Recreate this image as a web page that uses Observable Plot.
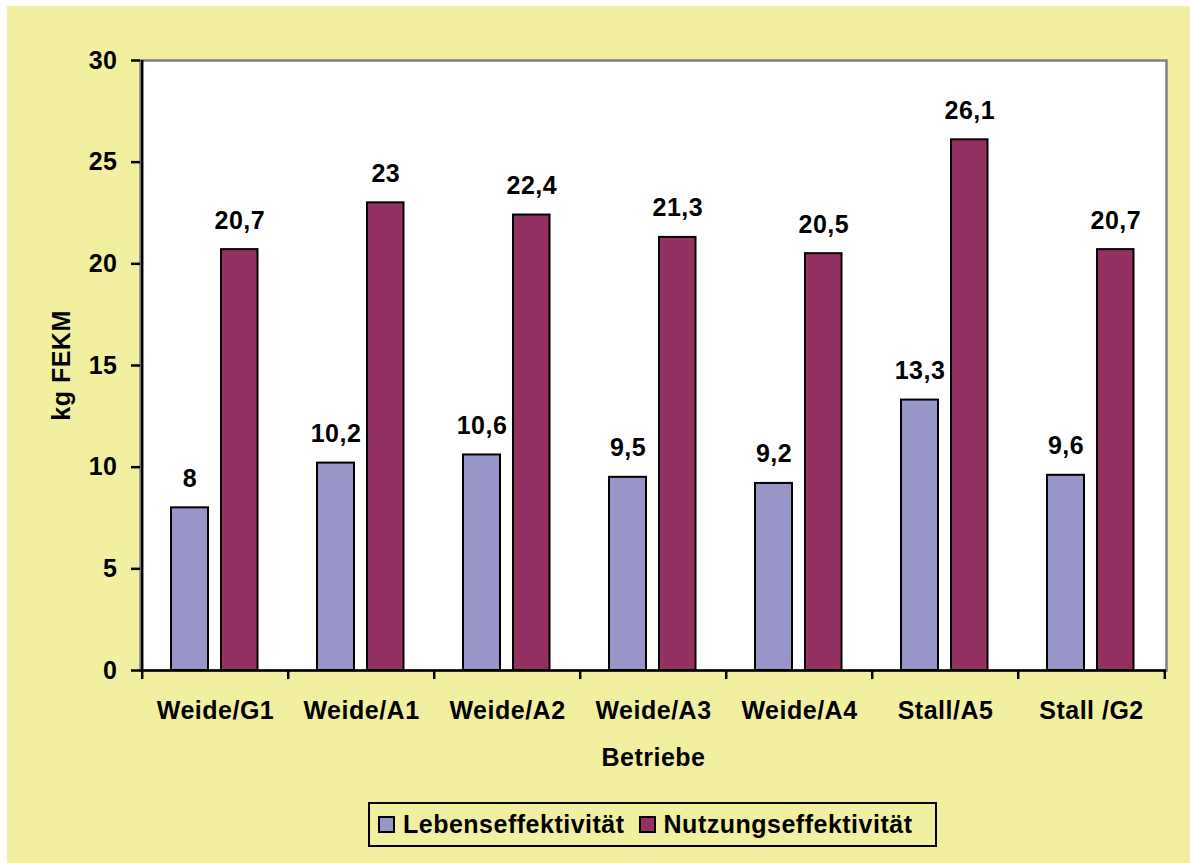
<!DOCTYPE html>
<html>
<head>
<meta charset="utf-8">
<script src="https://cdn.jsdelivr.net/npm/d3@7"></script>
<script src="https://cdn.jsdelivr.net/npm/@observablehq/plot@0.6"></script>
<style>
  html, body { margin: 0; padding: 0; background: #ffffff; }
  #wrap { position: relative; width: 1190px; height: 863px; overflow: hidden;
          font-family: "Liberation Sans", Arial, Helvetica, sans-serif; }
  #bg { position: absolute; left: 7px; top: 6px; right: 0; bottom: 0; background: #F2F0A0; }
  #chart { position: absolute; left: 0; top: 0; }
  #legend { position: absolute; left: 368px; top: 802px; width: 569px; height: 45px;
            box-sizing: border-box; border: 2px solid #000; background: #F2F0A0;
            display: flex; align-items: center; padding-left: 8px;
            font-weight: bold; font-size: 25px; letter-spacing: 0.5px; color: #000; }
  .sw { width: 17px; height: 17px; box-sizing: border-box; border: 2px solid #000;
        margin-right: 8px; flex: none; }
  .item { display: flex; align-items: center; margin-right: 14px; white-space: nowrap; }
</style>
</head>
<body>
<div id="wrap">
  <div id="bg"></div>
  <div id="chart"></div>
  <div id="legend"></div>
</div>
<script>
// Betriebe (farms) and the two efficiency measures in kg FEKM
const categories = ["Weide/G1", "Weide/A1", "Weide/A2", "Weide/A3", "Weide/A4", "Stall/A5", "Stall /G2"];
const lebenseffektivitaet = [8, 10.2, 10.6, 9.5, 9.2, 13.3, 9.6];
const nutzungseffektivitaet = [20.7, 23, 22.4, 21.3, 20.5, 26.1, 20.7];
const seriesNames = ["Lebenseffektivität", "Nutzungseffektivität"];
const yTicks = [0, 5, 10, 15, 20, 25, 30];

const colors = ["#9896C9", "#933262"];

const lebenRows = categories.map((c, i) => ({cat: c, value: lebenseffektivitaet[i]}));
const nutzRows = categories.map((c, i) => ({cat: c, value: nutzungseffektivitaet[i]}));

const fmt = v => String(v).replace(".", ",");

const width = 1190, height = 790;
const marginLeft = 140, marginRight = 24, marginTop = 60, marginBottom = 120;
const band = (width - marginLeft - marginRight) / categories.length;

const labelStyle = {fontSize: 25, fontWeight: "bold", fill: "#000", lineAnchor: "bottom", dy: -21};

const chart = Plot.plot({
  width, height, marginLeft, marginRight, marginTop, marginBottom,
  style: {background: "transparent", fontFamily: "'Liberation Sans', Arial, sans-serif",
          fontSize: "25px", fontWeight: "bold", color: "#000", letterSpacing: "0.5px"},
  x: {domain: categories, padding: 0, axis: null},
  y: {domain: [0, 30], axis: null},
  marks: [
    Plot.frame({fill: "#ffffff", stroke: "#808080", strokeWidth: 2.5}),
    Plot.barY(lebenRows, {x: "cat", y: "value", fill: colors[0], stroke: "#000", strokeWidth: 2,
                          insetLeft: 29, insetRight: 80}),
    Plot.barY(nutzRows, {x: "cat", y: "value", fill: colors[1], stroke: "#000", strokeWidth: 2,
                         insetLeft: 79, insetRight: 30.5}),
    Plot.text(lebenRows, {x: "cat", y: "value", text: d => fmt(d.value), dx: -25.5, ...labelStyle}),
    Plot.text(nutzRows, {x: "cat", y: "value", text: d => fmt(d.value), dx: 24.3, ...labelStyle}),
    // axis lines
    Plot.ruleY([0], {stroke: "#000", strokeWidth: 2.5}),
    Plot.ruleX([categories[0]], {x: d => d, dx: -band / 2, stroke: "#000", strokeWidth: 2.5}),
    // y axis ticks and labels
    Plot.axisY({ticks: yTicks, tickSize: 9, tickPadding: 14, tickFormat: d => d, label: null,
                stroke: "#000", strokeWidth: 2.5, fontSize: 25, fontWeight: "bold"}),
    // x axis ticks at band boundaries
    Plot.axisX({ticks: categories, tickSize: 9, dx: -band / 2, tickFormat: () => "", label: null,
                stroke: "#000", strokeWidth: 2.5}),
    Plot.axisX({ticks: [categories[categories.length - 1]], tickSize: 9, dx: band / 2,
                tickFormat: () => "", label: null, stroke: "#000", strokeWidth: 2.5}),
    // x axis category labels
    Plot.axisX({ticks: categories, tickSize: 0, tickPadding: 31, label: null,
                fontSize: 25, fontWeight: "bold"}),
    // axis titles
    Plot.text(["Betriebe"], {text: d => d, frameAnchor: "bottom", lineAnchor: "middle", dy: 87,
                             fontSize: 25, fontWeight: "bold"}),
    Plot.text(["kg FEKM"], {text: d => d, frameAnchor: "left", textAnchor: "middle",
                            lineAnchor: "middle", dx: -79, rotate: -90,
                            fontSize: 25, fontWeight: "bold"})
  ]
});
document.getElementById("chart").appendChild(chart);

// legend
const legend = document.getElementById("legend");
seriesNames.forEach((name, i) => {
  const item = document.createElement("div");
  item.className = "item";
  const sw = document.createElement("span");
  sw.className = "sw";
  sw.style.background = colors[i];
  const label = document.createElement("span");
  label.textContent = name;
  item.appendChild(sw);
  item.appendChild(label);
  legend.appendChild(item);
});
</script>
</body>
</html>
